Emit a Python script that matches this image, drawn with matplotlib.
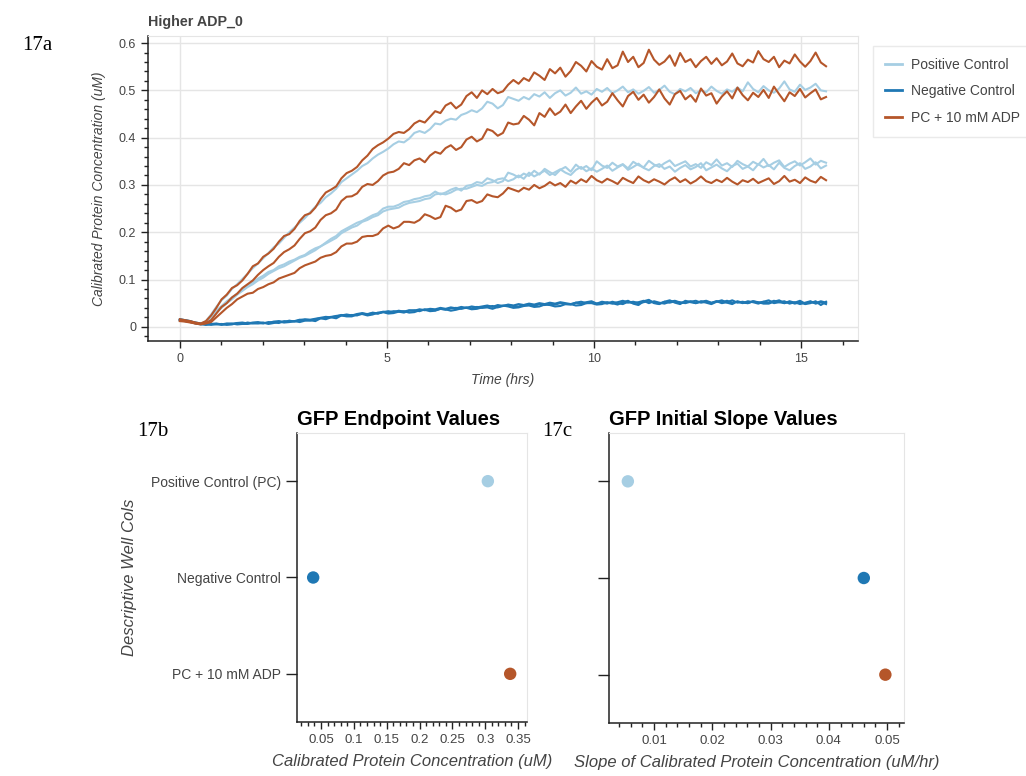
import numpy as np
import matplotlib
matplotlib.use("Agg")
import matplotlib.pyplot as plt
from matplotlib.ticker import MultipleLocator, FuncFormatter
from matplotlib.lines import Line2D

plt.rcParams['font.family'] = ['Liberation Sans', 'DejaVu Sans']

# ── colours ─────────────────────────────────────────────
C_POS = '#a6cee3'
C_NEG = '#1f78b4'
C_ADP = '#b5562a'
GRID = '#e5e5e5'
TXT = '#444444'

RUN_HRS = 15.6   # length of the plate read

# ── time course (uM), one list per well, read every ~0.125 h ──
adp_w1 = [0.016, 0.014, 0.012, 0.009, 0.007,
          0.012, 0.024, 0.040, 0.058,
          0.068, 0.082, 0.088, 0.098, 0.112, 0.128, 0.134, 0.148,
          0.155, 0.165, 0.180, 0.192, 0.196, 0.207, 0.224, 0.236,
          0.240, 0.252, 0.270, 0.284, 0.290, 0.297, 0.314, 0.325,
          0.330, 0.338, 0.352, 0.362, 0.376, 0.384, 0.390, 0.398,
          0.408, 0.412, 0.410, 0.418, 0.430, 0.436, 0.432, 0.444,
          0.456, 0.452, 0.468, 0.474, 0.462, 0.470, 0.488, 0.496,
          0.484, 0.500, 0.492, 0.503, 0.494, 0.498, 0.512, 0.522,
          0.514, 0.526, 0.520, 0.538, 0.531, 0.522, 0.545, 0.536,
          0.548, 0.529, 0.541, 0.560, 0.552, 0.540, 0.562, 0.550,
          0.544, 0.566, 0.547, 0.553, 0.582, 0.560, 0.571, 0.549,
          0.558, 0.586, 0.565, 0.554, 0.561, 0.574, 0.552, 0.579,
          0.560, 0.566, 0.549, 0.562, 0.571, 0.556, 0.568, 0.553,
          0.561, 0.578, 0.557, 0.551, 0.565, 0.559, 0.583, 0.566,
          0.560, 0.571, 0.549, 0.563, 0.557, 0.576, 0.561, 0.550,
          0.562, 0.580, 0.559, 0.551]
adp_w2 = [0.013, 0.012, 0.010, 0.007, 0.005,
          0.008, 0.014, 0.028, 0.042,
          0.050, 0.062, 0.070, 0.082, 0.090, 0.098, 0.110, 0.120,
          0.128, 0.135, 0.148, 0.158, 0.164, 0.172, 0.186, 0.198,
          0.202, 0.210, 0.226, 0.236, 0.240, 0.248, 0.266, 0.275,
          0.276, 0.282, 0.296, 0.302, 0.300, 0.308, 0.320, 0.326,
          0.328, 0.334, 0.346, 0.342, 0.352, 0.356, 0.348, 0.362,
          0.370, 0.366, 0.378, 0.384, 0.374, 0.380, 0.396, 0.402,
          0.392, 0.398, 0.418, 0.414, 0.404, 0.410, 0.432, 0.428,
          0.430, 0.446, 0.438, 0.426, 0.452, 0.444, 0.462, 0.448,
          0.455, 0.470, 0.452, 0.466, 0.478, 0.461, 0.474, 0.484,
          0.468, 0.476, 0.494, 0.479, 0.466, 0.488, 0.497, 0.480,
          0.491, 0.474, 0.486, 0.502, 0.483, 0.470, 0.492, 0.499,
          0.481, 0.490, 0.476, 0.504, 0.489, 0.494, 0.472, 0.487,
          0.498, 0.483, 0.506, 0.490, 0.479, 0.495, 0.486, 0.501,
          0.484, 0.508, 0.492, 0.477, 0.496, 0.488, 0.503, 0.485,
          0.494, 0.502, 0.481, 0.486]
adp_w3 = [0.012, 0.011, 0.009, 0.007, 0.006,
          0.007, 0.010, 0.020, 0.030,
          0.040, 0.048, 0.058, 0.064, 0.070, 0.072, 0.080, 0.084,
          0.090, 0.094, 0.102, 0.106, 0.110, 0.114, 0.124, 0.130,
          0.134, 0.138, 0.146, 0.150, 0.152, 0.158, 0.170, 0.176,
          0.176, 0.180, 0.190, 0.192, 0.192, 0.196, 0.208, 0.214,
          0.208, 0.212, 0.222, 0.222, 0.220, 0.226, 0.238, 0.234,
          0.228, 0.232, 0.256, 0.252, 0.244, 0.248, 0.266, 0.268,
          0.262, 0.266, 0.280, 0.276, 0.274, 0.282, 0.294, 0.290,
          0.286, 0.294, 0.290, 0.300, 0.293, 0.298, 0.306, 0.299,
          0.304, 0.296, 0.309, 0.303, 0.312, 0.306, 0.319, 0.310,
          0.305, 0.313, 0.308, 0.302, 0.315, 0.309, 0.304, 0.318,
          0.310, 0.305, 0.312, 0.307, 0.301, 0.310, 0.316, 0.306,
          0.312, 0.303, 0.309, 0.318, 0.308, 0.304, 0.311, 0.306,
          0.315, 0.307, 0.301, 0.310, 0.306, 0.313, 0.304, 0.309,
          0.314, 0.302, 0.308, 0.319, 0.307, 0.311, 0.304, 0.316,
          0.309, 0.305, 0.317, 0.310]

pos_w1 = [0.014, 0.013, 0.011, 0.008, 0.006,
          0.012, 0.026, 0.042, 0.056,
          0.066, 0.080, 0.090, 0.101, 0.112, 0.124, 0.134, 0.145,
          0.156, 0.168, 0.176, 0.188, 0.200, 0.210, 0.220, 0.230,
          0.242, 0.254, 0.262, 0.274, 0.282, 0.292, 0.306, 0.314,
          0.322, 0.330, 0.340, 0.346, 0.356, 0.364, 0.370, 0.377,
          0.386, 0.392, 0.390, 0.398, 0.410, 0.414, 0.410, 0.418,
          0.430, 0.428, 0.436, 0.440, 0.438, 0.448, 0.452, 0.458,
          0.454, 0.462, 0.476, 0.472, 0.462, 0.469, 0.486, 0.482,
          0.478, 0.486, 0.481, 0.492, 0.487, 0.496, 0.484, 0.494,
          0.500, 0.489, 0.495, 0.506, 0.493, 0.498, 0.491, 0.503,
          0.497, 0.505, 0.494, 0.500, 0.508, 0.496, 0.502, 0.493,
          0.499, 0.507, 0.495, 0.501, 0.510, 0.497, 0.492, 0.503,
          0.498, 0.505, 0.494, 0.500, 0.496, 0.508, 0.499, 0.493,
          0.502, 0.497, 0.506, 0.498, 0.517, 0.503, 0.496, 0.509,
          0.500, 0.495, 0.504, 0.519, 0.502, 0.497, 0.512, 0.501,
          0.506, 0.514, 0.500, 0.498]
pos_w2 = [0.015, 0.014, 0.012, 0.008, 0.006,
          0.010, 0.022, 0.034, 0.044,
          0.054, 0.062, 0.070, 0.078, 0.088, 0.094, 0.102, 0.108,
          0.116, 0.120, 0.128, 0.132, 0.138, 0.142, 0.148, 0.152,
          0.160, 0.166, 0.170, 0.178, 0.186, 0.192, 0.202, 0.208,
          0.214, 0.220, 0.224, 0.230, 0.236, 0.240, 0.250, 0.254,
          0.254, 0.258, 0.264, 0.266, 0.270, 0.272, 0.276, 0.278,
          0.286, 0.280, 0.284, 0.290, 0.294, 0.288, 0.298, 0.300,
          0.306, 0.304, 0.314, 0.310, 0.304, 0.308, 0.326, 0.322,
          0.316, 0.324, 0.319, 0.330, 0.322, 0.334, 0.327, 0.321,
          0.332, 0.338, 0.328, 0.343, 0.334, 0.340, 0.331, 0.350,
          0.341, 0.336, 0.347, 0.339, 0.344, 0.335, 0.349, 0.342,
          0.337, 0.351, 0.343, 0.338, 0.346, 0.352, 0.340, 0.345,
          0.350, 0.339, 0.344, 0.336, 0.348, 0.342, 0.354, 0.341,
          0.346, 0.338, 0.351, 0.344, 0.339, 0.349, 0.343, 0.355,
          0.340, 0.347, 0.352, 0.338, 0.345, 0.350, 0.341, 0.348,
          0.356, 0.343, 0.351, 0.347]
pos_w3 = [0.016, 0.014, 0.011, 0.009, 0.007,
          0.009, 0.018, 0.030, 0.040,
          0.050, 0.058, 0.068, 0.076, 0.084, 0.090, 0.098, 0.104,
          0.112, 0.118, 0.124, 0.128, 0.134, 0.140, 0.146, 0.150,
          0.156, 0.162, 0.170, 0.176, 0.182, 0.188, 0.198, 0.204,
          0.210, 0.214, 0.222, 0.226, 0.232, 0.236, 0.244, 0.248,
          0.250, 0.252, 0.258, 0.262, 0.264, 0.266, 0.270, 0.272,
          0.280, 0.282, 0.280, 0.284, 0.290, 0.292, 0.292, 0.296,
          0.300, 0.298, 0.304, 0.306, 0.312, 0.314, 0.308, 0.312,
          0.320, 0.313, 0.326, 0.318, 0.324, 0.330, 0.321, 0.327,
          0.333, 0.326, 0.321, 0.332, 0.338, 0.329, 0.335, 0.328,
          0.334, 0.341, 0.330, 0.337, 0.343, 0.332, 0.338, 0.345,
          0.336, 0.331, 0.340, 0.344, 0.334, 0.339, 0.328, 0.336,
          0.342, 0.333, 0.338, 0.346, 0.331, 0.337, 0.343, 0.335,
          0.329, 0.340, 0.345, 0.334, 0.339, 0.331, 0.344, 0.337,
          0.342, 0.333, 0.347, 0.336, 0.331, 0.340, 0.346, 0.334,
          0.339, 0.348, 0.335, 0.341]

neg_w1 = [0.016, 0.014, 0.012, 0.008, 0.006,
          0.004, 0.006, 0.005, 0.006,
          0.004, 0.005, 0.008, 0.006, 0.006, 0.008, 0.007, 0.009,
          0.006, 0.008, 0.011, 0.009, 0.010, 0.012, 0.010, 0.013,
          0.014, 0.012, 0.018, 0.016, 0.020, 0.018, 0.024, 0.022,
          0.022, 0.026, 0.027, 0.024, 0.026, 0.030, 0.031, 0.028,
          0.029, 0.032, 0.033, 0.030, 0.031, 0.035, 0.036, 0.033,
          0.034, 0.038, 0.037, 0.034, 0.036, 0.039, 0.040, 0.037,
          0.038, 0.041, 0.041, 0.038, 0.042, 0.045, 0.043, 0.040,
          0.041, 0.044, 0.045, 0.042, 0.043, 0.047, 0.046, 0.043,
          0.044, 0.048, 0.048, 0.045, 0.046, 0.050, 0.050, 0.047,
          0.048, 0.052, 0.050, 0.047, 0.052, 0.055, 0.049, 0.046,
          0.054, 0.057, 0.050, 0.048, 0.053, 0.056, 0.051, 0.048,
          0.055, 0.052, 0.050, 0.054, 0.051, 0.048, 0.053, 0.056,
          0.051, 0.048, 0.054, 0.051, 0.050, 0.054, 0.052, 0.049,
          0.049, 0.053, 0.056, 0.050, 0.053, 0.049, 0.052, 0.048,
          0.050, 0.054, 0.046, 0.053]
neg_w2 = [0.014, 0.012, 0.010, 0.007, 0.005,
          0.006, 0.004, 0.006, 0.004,
          0.006, 0.007, 0.005, 0.006, 0.009, 0.007, 0.008, 0.007,
          0.010, 0.009, 0.008, 0.012, 0.011, 0.012, 0.015, 0.014,
          0.013, 0.016, 0.018, 0.019, 0.021, 0.022, 0.025, 0.023,
          0.025, 0.024, 0.028, 0.027, 0.029, 0.028, 0.032, 0.030,
          0.033, 0.032, 0.030, 0.034, 0.035, 0.033, 0.037, 0.036,
          0.035, 0.038, 0.036, 0.039, 0.040, 0.038, 0.041, 0.039,
          0.042, 0.040, 0.042, 0.044, 0.041, 0.044, 0.046, 0.044,
          0.043, 0.046, 0.047, 0.044, 0.048, 0.046, 0.049, 0.047,
          0.050, 0.048, 0.047, 0.051, 0.049, 0.052, 0.054, 0.049,
          0.051, 0.049, 0.053, 0.050, 0.048, 0.053, 0.050, 0.052,
          0.055, 0.050, 0.054, 0.051, 0.049, 0.053, 0.055, 0.050,
          0.052, 0.054, 0.050, 0.053, 0.055, 0.051, 0.054, 0.050,
          0.052, 0.056, 0.051, 0.053, 0.050, 0.054, 0.051, 0.053,
          0.056, 0.050, 0.052, 0.054, 0.049, 0.052, 0.048, 0.051,
          0.054, 0.049, 0.052, 0.048]
neg_w3 = [0.015, 0.013, 0.011, 0.009, 0.007,
          0.005, 0.006, 0.007, 0.005,
          0.007, 0.006, 0.008, 0.009, 0.007, 0.009, 0.010, 0.008,
          0.008, 0.011, 0.012, 0.010, 0.013, 0.011, 0.014, 0.016,
          0.015, 0.017, 0.019, 0.021, 0.020, 0.023, 0.024, 0.026,
          0.024, 0.027, 0.029, 0.026, 0.030, 0.028, 0.031, 0.033,
          0.031, 0.034, 0.032, 0.035, 0.034, 0.037, 0.035, 0.038,
          0.037, 0.040, 0.038, 0.041, 0.039, 0.042, 0.040, 0.043,
          0.041, 0.043, 0.045, 0.042, 0.046, 0.044, 0.047, 0.045,
          0.048, 0.046, 0.049, 0.047, 0.050, 0.048, 0.051, 0.049,
          0.052, 0.050, 0.048, 0.051, 0.053, 0.050, 0.052, 0.049,
          0.053, 0.051, 0.049, 0.052, 0.055, 0.051, 0.053, 0.050,
          0.052, 0.055, 0.051, 0.049, 0.053, 0.051, 0.054, 0.052,
          0.050, 0.053, 0.055, 0.051, 0.053, 0.050, 0.054, 0.052,
          0.055, 0.051, 0.053, 0.050, 0.054, 0.052, 0.049, 0.053,
          0.051, 0.055, 0.052, 0.050, 0.054, 0.051, 0.055, 0.049,
          0.053, 0.050, 0.054, 0.051]

# ── summary values ──────────────────────────────────────
groups = ['Positive Control (PC)', 'Negative Control', 'PC + 10 mM ADP']
legend_names = ['Positive Control', 'Negative Control', 'PC + 10 mM ADP']
group_colors = [C_POS, C_NEG, C_ADP]
endpoint_uM = [0.304, 0.038, 0.338]
slope_uM_hr = [0.0055, 0.0460, 0.0497]


def style_axes(ax, tick_fs):
    for side in ('top', 'right'):
        ax.spines[side].set_color(GRID)
    for side in ('left', 'bottom'):
        ax.spines[side].set_color('#222222')
        ax.spines[side].set_linewidth(1.1)
    ax.tick_params(which='major', direction='out', length=5, width=1,
                   color='#222222', labelcolor=TXT, labelsize=tick_fs)
    ax.tick_params(which='minor', direction='out', length=3, width=1,
                   color='#222222')


fmt_g = FuncFormatter(lambda v, _: f'{v:g}')

fig = plt.figure(figsize=(10.26, 7.76), dpi=100, facecolor='white')

# ── 17a: time course ────────────────────────────────────
ax = fig.add_axes([0.1442, 0.5606, 0.692, 0.393])
for wells, col in (((pos_w1, pos_w2, pos_w3), C_POS),
                   ((neg_w1, neg_w2, neg_w3), C_NEG),
                   ((adp_w1, adp_w2, adp_w3), C_ADP)):
    for w in wells:
        ax.plot(np.linspace(0, RUN_HRS, len(w)), w, color=col, lw=1.5)
ax.set_xlim(-0.77, 16.37)
ax.set_ylim(-0.030, 0.615)
ax.xaxis.set_major_locator(MultipleLocator(5))
ax.xaxis.set_minor_locator(MultipleLocator(1))
ax.yaxis.set_major_locator(MultipleLocator(0.1))
ax.yaxis.set_minor_locator(MultipleLocator(0.02))
ax.xaxis.set_major_formatter(fmt_g)
ax.yaxis.set_major_formatter(fmt_g)
ax.grid(which='major', color=GRID, lw=1)
ax.set_axisbelow(True)
style_axes(ax, 9)
ax.set_xlabel('Time (hrs)', fontsize=10, style='italic', color=TXT, labelpad=6)
ax.set_ylabel('Calibrated Protein Concentration (uM)', fontsize=10,
              style='italic', color=TXT, labelpad=9)
ax.set_title('Higher ADP_0', loc='left', fontsize=10.3, fontweight='bold',
             color=TXT, pad=7)

handles = [Line2D([], [], color=c, lw=2) for c in group_colors]
leg = fig.legend(handles, legend_names,
                 loc='upper left', bbox_to_anchor=(873 / 1026, 1 - 46 / 776),
                 fontsize=10, frameon=True, fancybox=False, borderpad=0.85,
                 labelspacing=0.9, handlelength=1.25, handletextpad=0.65,
                 borderaxespad=0)
leg.get_frame().set_edgecolor(GRID)
leg.get_frame().set_linewidth(1)
for t in leg.get_texts():
    t.set_color(TXT)

# ── 17b: endpoint values ────────────────────────────────
ypos = [2.5, 1.5, 0.5]
axb = fig.add_axes([0.2895, 0.0696, 0.2242, 0.3724])
axb.scatter(endpoint_uM, ypos, s=80, c=group_colors, edgecolors='none', zorder=3)
axb.set_xlim(0.0134, 0.3637)
axb.set_ylim(0, 3)
axb.xaxis.set_major_locator(MultipleLocator(0.05))
axb.xaxis.set_minor_locator(MultipleLocator(0.01))
axb.xaxis.set_major_formatter(fmt_g)
axb.set_yticks(ypos)
axb.set_yticklabels(groups, fontsize=10)
style_axes(axb, 9.5)
axb.tick_params(axis='y', length=8, labelsize=10)
axb.set_xlabel('Calibrated Protein Concentration (uM)', fontsize=12,
               style='italic', color=TXT, labelpad=6)
axb.set_ylabel('Descriptive Well Cols', fontsize=12, style='italic',
               color=TXT, labelpad=10)
axb.set_title('GFP Endpoint Values', loc='left', fontsize=14.5,
              fontweight='bold', pad=6)

# ── 17c: initial slope values ───────────────────────────
axc = fig.add_axes([0.5936, 0.0683, 0.2875, 0.3737])
axc.scatter(slope_uM_hr, ypos, s=80, c=group_colors, edgecolors='none', zorder=3)
axc.set_xlim(0.00227, 0.0529)
axc.set_ylim(0, 3)
axc.xaxis.set_major_locator(MultipleLocator(0.01))
axc.xaxis.set_minor_locator(MultipleLocator(0.002))
axc.xaxis.set_major_formatter(fmt_g)
axc.set_yticks(ypos)
axc.set_yticklabels([])
style_axes(axc, 9.5)
axc.tick_params(axis='y', length=8)
axc.set_xlabel('Slope of Calibrated Protein Concentration (uM/hr)',
               fontsize=12, style='italic', color=TXT, labelpad=6)
axc.set_title('GFP Initial Slope Values', loc='left', fontsize=14.5,
              fontweight='bold', pad=6)

# ── panel labels ────────────────────────────────────────
for txt, x, y in (('17a', 22, 46), ('17b', 137, 432), ('17c', 542, 432)):
    fig.text(x / 1026, 1 - y / 776, txt, ha='left', va='center',
             fontsize=15, family='Liberation Serif')

fig.savefig('out.png', dpi=100, facecolor='white')
